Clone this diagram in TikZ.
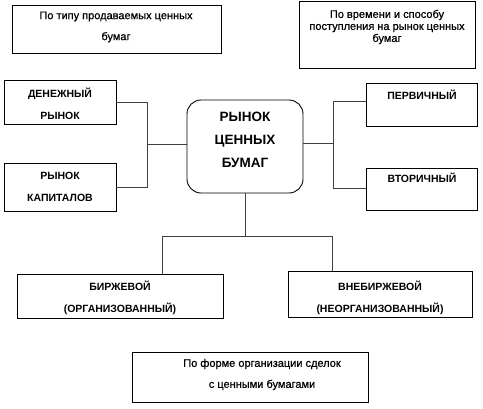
\documentclass[tikz,border=0pt]{standalone}
\usepackage{fontspec}
\setmainfont{Liberation Sans}
\newfontfamily\notefont[FakeBold=0.7]{Liberation Sans}
\usetikzlibrary{positioning, fit}

\begin{document}
\begin{tikzpicture}[
    x=1pt, y=-1pt,
    box/.style={rectangle, draw, line width=0.9pt, inner sep=0pt},
    hub/.style={box, rounded corners=14pt},
    caps/.style={align=center, font=\fontsize{10.5}{22}\selectfont\bfseries},
    bigcaps/.style={align=center, font=\fontsize{13.5}{23}\selectfont\bfseries},
    note/.style={align=center, font=\notefont\fontsize{11}{#1}\selectfont},
    note/.default=21,
    link/.style={draw=black!75, line width=0.8pt}
]
\useasboundingbox (0,0) rectangle (483,408);

% Boxes
\node[box, fit={(12,5) (221,53)}] (kind) {};
\node[box, fit={(299,1) (475,68)}] (time) {};
\node[box, fit={(4,80) (116,124)}] (money) {};
\node[box, fit={(4,163) (116,211)}] (capital) {};
\node[hub, fit={(187,100) (303,193)}] (market) {};
\node[box, fit={(366,83) (477,126)}] (prim) {};
\node[box, fit={(366,168) (477,210)}] (sec) {};
\node[box, fit={(17,274) (223,318)}] (exch) {};
\node[box, fit={(288,271) (472,317)}] (otc) {};
\node[box, fit={(132,352) (368,402)}] (form) {};

% Texts
\node[note] (kindtxt) at (116,27) {По типу продаваемых ценных\\бумаг};
\node[note=12] (timetxt) at (387,27) {По времени и способу\\поступления на рынок ценных\\бумаг};
\node[caps] (moneytxt) at (60,104) {ДЕНЕЖНЫЙ\\РЫНОК};
\node[caps] (capitaltxt) at (60,186.5) {РЫНОК\\КАПИТАЛОВ};
\node[bigcaps] (markettxt) at (245,140) {РЫНОК\\ЦЕННЫХ\\БУМАГ};
\node[caps] (primtxt) at (422,95) {ПЕРВИЧНЫЙ};
\node[caps] (sectxt) at (422,178) {ВТОРИЧНЫЙ};
\node[caps] (exchtxt) at (120,297.5) {БИРЖЕВОЙ\\(ОРГАНИЗОВАННЫЙ)};
\node[caps] (otctxt) at (380,297.5) {ВНЕБИРЖЕВОЙ\\(НЕОРГАНИЗОВАННЫЙ)};
\node[note] (formtxt) at (262,374.5) {По форме организации сделок\\с ценными бумагами};

% Junctions
\coordinate (lj) at (147,144);
\coordinate (rt) at (333,101);
\coordinate (rj) at (333,143);
\coordinate (rb) at (333,188);
\coordinate (bj) at (245,236);
\coordinate (bl) at (162,236);
\coordinate (br) at (332,236);

% Connectors
\draw[link] (money.east) -| (lj);
\draw[link] (capital.east) -| (lj);
\draw[link] (lj) -- (lj -| market.west);
\draw[link] (market.east |- rj) -- (rj);
\draw[link] (prim.west |- rt) -| (rb) -- (sec.west |- rb);
\draw[link] (market.south -| bj) -- (bj);
\draw[link] (exch.north -| bl) |- (br) -- (otc.north -| br);
\end{tikzpicture}
\end{document}
